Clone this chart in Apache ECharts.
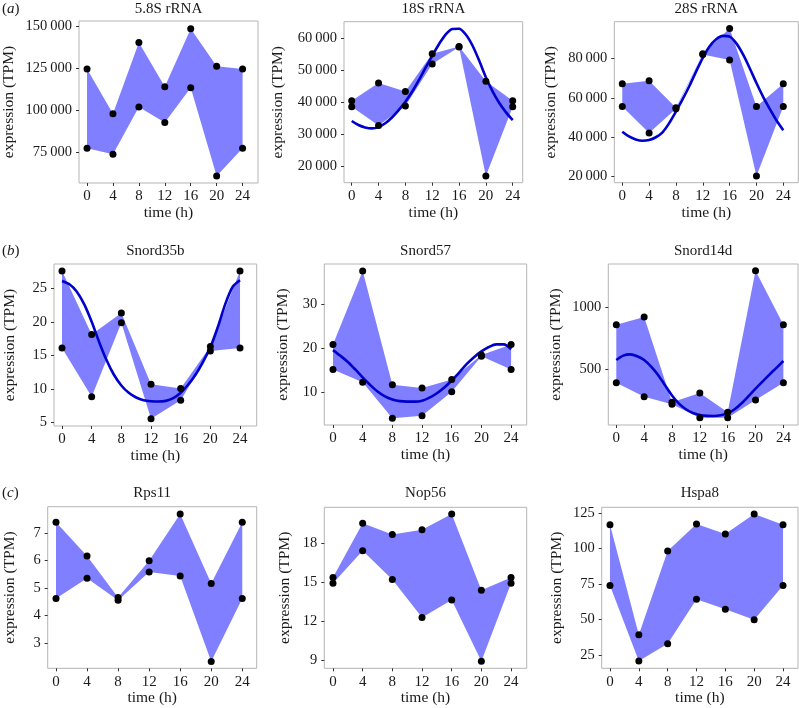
<!DOCTYPE html>
<html><head><meta charset="utf-8">
<script src="https://cdn.jsdelivr.net/npm/echarts@6/dist/echarts.min.js"></script>
<style>html,body{margin:0;padding:0;background:#fff}#c{width:799px;height:708px}</style>
</head><body><div id="c"></div>
<script>
// ---- data ----
const times = [0, 4, 8, 12, 16, 20, 24];
const xTicks = [0, 4, 8, 12, 16, 20, 24];
const fitHours = [0, 1, 2, 3, 4, 5, 6, 7, 8, 9, 10, 11, 12, 13, 14, 15, 16, 17, 18, 19, 20, 21, 22, 23, 24];

const rRNA58Hi = [124500, 98000, 140300, 114100, 148400, 126200, 124500];
const rRNA58Lo = [77600, 74000, 102000, 92900, 113500, 61100, 77600];
const rRNA58Ticks = [75000, 100000, 125000, 150000];

const rRNA18Hi = [40400, 45900, 43300, 55000, 57300, 46500, 40400];
const rRNA18Lo = [38500, 32700, 38800, 51800, 57100, 17000, 38500];
const rRNA18Fit = [34100, 32850, 32100, 31800, 32200, 33400, 35200, 37500, 40100, 43200, 46800, 50600, 54400,
  58000, 61000, 62700, 62800, 61000, 57600, 52900, 47700, 43300, 39700, 36800, 34400];
const rRNA18Ticks = [20000, 30000, 40000, 50000, 60000];

const rRNA28Hi = [67100, 68600, 54900, 82400, 95200, 55600, 67100];
const rRNA28Lo = [55600, 42200, 54500, 82000, 79200, 20300, 55600];
const rRNA28Fit = [42800, 40400, 38900, 38200, 38600, 40000, 42500, 47200, 53000, 59300, 66000, 73300, 80300,
  86000, 89700, 91400, 91000, 87600, 82000, 75000, 67500, 60500, 54300, 48500, 43600];
const rRNA28Ticks = [20000, 40000, 60000, 80000];

const snord35bHi = [27.6, 18.1, 21.3, 10.7, 10.05, 16.3, 27.6];
const snord35bLo = [16.1, 8.8, 19.85, 5.55, 8.3, 15.65, 16.1];
const snord35bFit = [26.1, 25.6, 24.5, 22.6, 20.0, 17.0, 14.3, 12.1, 10.5, 9.4, 8.7, 8.3, 8.15,
  8.1, 8.2, 8.6, 9.4, 10.6, 12.1, 14.0, 16.2, 19.2, 22.6, 25.2, 26.2];
const snord35bTicks = [5, 10, 15, 20, 25];

const snord57Hi = [20.9, 37.6, 11.7, 11.0, 12.9, 18.5, 20.9];
const snord57Lo = [15.2, 12.3, 4.1, 4.7, 10.15, 18.2, 15.2];
const snord57Fit = [19.6, 18.3, 16.9, 15.2, 13.4, 11.7, 10.2, 9.1, 8.4, 8.0, 7.9, 7.9, 8.1,
  8.8, 9.8, 11.1, 12.7, 14.5, 16.4, 18.0, 19.3, 20.3, 20.9, 20.9, 19.8];
const snord57Ticks = [10, 20, 30];

const snord14dHi = [858, 920, 235, 310, 155, 1291, 858];
const snord14dLo = [393, 281, 219, 112, 112, 254, 393];
const snord14dFit = [575, 610, 620, 605, 575, 522, 455, 372, 290, 225, 180, 150, 134,
  127, 126, 132, 148, 180, 228, 285, 345, 402, 458, 512, 567];
const snord14dTicks = [500, 1000];

const rps11Hi = [7.39, 6.17, 4.66, 5.99, 7.69, 5.17, 7.39];
const rps11Lo = [4.62, 5.36, 4.56, 5.58, 5.44, 2.33, 4.62];
const rps11Ticks = [3, 4, 5, 6, 7];

const nop56Hi = [15.36, 19.54, 18.69, 19.05, 20.26, 14.38, 15.36];
const nop56Lo = [14.92, 17.43, 15.21, 12.28, 13.62, 8.9, 14.92];
const nop56Ticks = [9, 12, 15, 18];

const hspa8Hi = [116.8, 39.2, 98.4, 117.5, 110.4, 124.5, 116.8];
const hspa8Lo = [74.1, 20.8, 33.0, 64.4, 57.3, 49.8, 74.1];
const hspa8Ticks = [25, 50, 75, 100, 125];

const titles = ['5.8S rRNA', '18S rRNA', '28S rRNA', 'Snord35b', 'Snord57', 'Snord14d', 'Rps11', 'Nop56', 'Hspa8'];
const rowLabels = ['a', 'b', 'c'];
const xName = 'time (h)';
const yName = 'expression (TPM)';

// ---- layout (positions/sizes, not data) ----
const layout = [
  {left: 79, top: 21, width: 179, height: 162, xMin: -1.24, xMax: 26.38, yMin: 57000, yMax: 153000, gap: 62},
  {left: 344, top: 21.7, width: 178.7, height: 161, xMin: -1.15, xMax: 25.49, yMin: 14900, yMax: 65000, gap: 58},
  {left: 614.3, top: 21.7, width: 184, height: 161, xMin: -1.19, xMax: 26.24, yMin: 16950, yMax: 98600, gap: 55},
  {left: 54, top: 264, width: 202.7, height: 162, xMin: -1.08, xMax: 26.25, yMin: 4.45, yMax: 28.63, gap: 36},
  {left: 324.3, top: 264, width: 202.4, height: 161, xMin: -1.17, xMax: 26.1, yMin: 2.58, yMax: 39.17, gap: 33},
  {left: 608.3, top: 264, width: 189.7, height: 161, xMin: -1.15, xMax: 26.1, yMin: 53.5, yMax: 1345, gap: 44},
  {left: 47.7, top: 506.7, width: 209, height: 161.6, xMin: -1.07, xMax: 25.86, yMin: 2.08, yMax: 7.96, gap: 30},
  {left: 324.3, top: 507.3, width: 202.4, height: 161, xMin: -1.17, xMax: 26.11, yMin: 8.36, yMax: 20.78, gap: 31},
  {left: 601.7, top: 507.3, width: 196.3, height: 161, xMin: -1.15, xMax: 26.08, yMin: 15.6, yMax: 129.2, gap: 37}
];
const titleY = [9, 251.5, 493.5];

const panels = [
  {hi: rRNA58Hi, lo: rRNA58Lo, ticks: rRNA58Ticks},
  {hi: rRNA18Hi, lo: rRNA18Lo, ticks: rRNA18Ticks, fit: rRNA18Fit},
  {hi: rRNA28Hi, lo: rRNA28Lo, ticks: rRNA28Ticks, fit: rRNA28Fit},
  {hi: snord35bHi, lo: snord35bLo, ticks: snord35bTicks, fit: snord35bFit},
  {hi: snord57Hi, lo: snord57Lo, ticks: snord57Ticks, fit: snord57Fit},
  {hi: snord14dHi, lo: snord14dLo, ticks: snord14dTicks, fit: snord14dFit},
  {hi: rps11Hi, lo: rps11Lo, ticks: rps11Ticks},
  {hi: nop56Hi, lo: nop56Lo, ticks: nop56Ticks},
  {hi: hspa8Hi, lo: hspa8Lo, ticks: hspa8Ticks}
];

const FONT = 'Liberation Serif';
const BAND = '#7f7fff';
const CURVE = '#0000cc';

function fmt(v) {
  if (Math.abs(v) >= 10000) return String(v).replace(/\B(?=(\d{3})+(?!\d))/g, '\u2009');
  return String(v);
}

const grid = [], xAxis = [], yAxis = [], series = [], graphic = [];
panels.forEach((p, i) => {
  const L = layout[i];
  grid.push({left: L.left, top: L.top, width: L.width, height: L.height, show: true,
    borderColor: '#b5b5b5', borderWidth: 1, backgroundColor: 'transparent', containLabel: false});
  xAxis.push({type: 'value', gridIndex: i, min: L.xMin, max: L.xMax,
    axisLine: {show: false, onZero: false}, splitLine: {show: false},
    axisTick: {show: true, inside: false, length: 3, customValues: xTicks, lineStyle: {color: '#333', width: 1}},
    axisLabel: {customValues: xTicks, margin: 6, color: '#1a1a1a', fontFamily: FONT, fontSize: 15},
    name: xName, nameLocation: 'middle', nameGap: 22,
    nameTextStyle: {color: '#1a1a1a', fontFamily: FONT, fontSize: 15.5}});
  yAxis.push({type: 'value', gridIndex: i, min: L.yMin, max: L.yMax,
    axisLine: {show: false, onZero: false}, splitLine: {show: false},
    axisTick: {show: true, inside: false, length: 3, customValues: p.ticks, lineStyle: {color: '#333', width: 1}},
    axisLabel: {customValues: p.ticks, margin: 7, color: '#1a1a1a', fontFamily: FONT, fontSize: 14.5, formatter: fmt},
    name: yName, nameLocation: 'middle', nameGap: L.gap, nameRotate: 90,
    nameTextStyle: {color: '#1a1a1a', fontFamily: FONT, fontSize: 15.5}});
  // ribbon between low and high readings, built through the axis scales
  series.push({type: 'custom', xAxisIndex: i, yAxisIndex: i, silent: true, z: 1,
    data: times.map((t, k) => [t, p.lo[k], p.hi[k]]),
    encode: {x: 0, y: [1, 2]},
    renderItem: function (params, api) {
      if (params.dataIndex !== 0) return null;
      const upper = times.map((t, k) => api.coord([t, p.hi[k]]));
      const lower = times.map((t, k) => api.coord([t, p.lo[k]])).reverse();
      return {type: 'polygon', shape: {points: upper.concat(lower)}, style: {fill: BAND, stroke: null}};
    }});
  if (p.fit) {
    series.push({type: 'line', xAxisIndex: i, yAxisIndex: i, silent: true, smooth: 0.3,
      data: fitHours.map((t, k) => [t, p.fit[k]]), showSymbol: false, symbol: 'none',
      lineStyle: {color: CURVE, width: 2.6}, z: 3});
  }
  const pts = [];
  times.forEach((t, k) => { pts.push([t, p.hi[k]]); pts.push([t, p.lo[k]]); });
  series.push({type: 'scatter', xAxisIndex: i, yAxisIndex: i, silent: true, data: pts,
    symbol: 'circle', symbolSize: 7, itemStyle: {color: '#000', opacity: 1}, z: 4});
  graphic.push({type: 'text', x: L.left + L.width / 2, y: titleY[Math.floor(i / 3)],
    style: {text: titles[i], fontFamily: FONT, fontSize: 15, fill: '#1a1a1a', textAlign: 'center', textVerticalAlign: 'middle'}});
});
rowLabels.forEach((lab, r) => {
  graphic.push({type: 'text', x: 2, y: titleY[r],
    style: {text: '{n|(}{i|' + lab + '}{n|)}', textVerticalAlign: 'middle',
      rich: {n: {fontFamily: FONT, fontSize: 15, fill: '#1a1a1a'}, i: {fontFamily: FONT, fontSize: 15, fontStyle: 'italic', fill: '#1a1a1a'}}}});
});

const chart = echarts.init(document.getElementById('c'), null, {renderer: 'canvas'});
chart.setOption({animation: false, backgroundColor: '#fff', grid, xAxis, yAxis, series, graphic});
</script></body></html>
